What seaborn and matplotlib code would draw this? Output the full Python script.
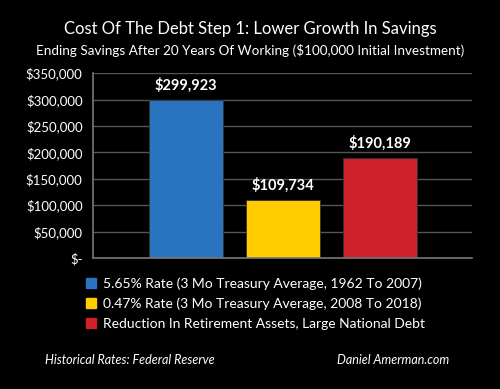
import matplotlib
matplotlib.use('Agg')
import matplotlib.pyplot as plt
import seaborn as sns
import pandas as pd
from matplotlib.ticker import FuncFormatter

categories = ['5.65% Rate (3 Mo Treasury Average, 1962 To 2007)',
              '0.47% Rate (3 Mo Treasury Average, 2008 To 2018)',
              'Reduction In Retirement Assets, Large National Debt']
values = [299923, 109734, 190189]
colors = ['#2a73bf', '#ffcc00', '#cc2128']
yticks = [0, 50000, 100000, 150000, 200000, 250000, 300000, 350000]

df = pd.DataFrame({'series': categories, 'value': values})

sns.set_style('dark')
plt.rcParams['font.family'] = ['Lato', 'DejaVu Sans']

fig = plt.figure(figsize=(5, 3.89), dpi=100, facecolor='black')
ax = fig.add_axes([0.186, 0.337, 0.758, 0.475])
ax.set_facecolor('black')

sns.barplot(data=df, x='series', y='value', hue='series', palette=colors,
            width=0.76, dodge=False, legend=False, ax=ax, saturation=1,
            edgecolor='#333333', linewidth=0.6)

for c in ax.containers:
    ax.bar_label(c, labels=['${:,.0f}'.format(v.get_height()) for v in c],
                 padding=5, color='white', fontsize=10.5, fontweight='bold')

ax.set_ylim(0, 350000)
ax.set_xlim(-0.96, 2.95)
ax.set_yticks(yticks)
ax.yaxis.set_major_formatter(FuncFormatter(lambda v, p: '$-' if v == 0 else '${:,.0f}'.format(v)))
ax.tick_params(axis='y', colors='white', labelsize=9.5, length=4, color='#777777')
ax.set_xticks([])
ax.set_xlabel('')
ax.set_ylabel('')
ax.grid(axis='y', color='#555555', linewidth=1)
ax.set_axisbelow(True)
for s in ['top', 'right']:
    ax.spines[s].set_visible(False)
for s in ['left', 'bottom']:
    ax.spines[s].set_visible(True)
    ax.spines[s].set_color('#777777')
    ax.spines[s].set_linewidth(1.2)

handles = [plt.Rectangle((0, 0), 1, 1, color=c) for c in colors]
fig.legend(handles, categories, loc='upper left', bbox_to_anchor=(0.158, 0.305),
           frameon=False, labelcolor='white', fontsize=10,
           handlelength=0.7, handleheight=0.7, handletextpad=0.5, labelspacing=0.55,
           borderpad=0)

fig.text(0.5, 0.925, 'Cost Of The Debt Step 1: Lower Growth In Savings',
         color='white', fontsize=12, ha='center', va='center')
fig.text(0.5, 0.87, 'Ending Savings After 20 Years Of Working ($100,000 Initial Investment)',
         color='white', fontsize=9.7, ha='center', va='center')
fig.text(0.09, 0.075, 'Historical Rates: Federal Reserve', color='white',
         fontsize=9, style='italic', va='center')
fig.text(0.898, 0.075, 'Daniel Amerman.com', color='white',
         fontsize=9, style='italic', va='center', ha='right')

fig.savefig('out.png', dpi=100, facecolor='black')
